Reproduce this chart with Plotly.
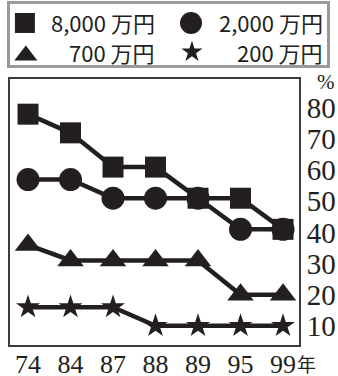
import plotly.graph_objects as go

# Survey years (x categories) and share (%) for each income bracket
years = ["74", "84", "87", "88", "89", "95", "99"]
income_8000 = [78, 72, 61, 61, 51, 51, 41]
income_2000 = [57, 57, 51, 51, 51, 41, 41]
income_700 = [36, 31, 31, 31, 31, 20, 20]
income_200 = [16, 16, 16, 10, 10, 10, 10]
series_names = ["8,000 万円", "2,000 万円", "700 万円", "200 万円"]
y_ticks = [10, 20, 30, 40, 50, 60, 70, 80]

W, H = 338, 376
INK = "#231f20"
FRAME = "#3c3c3c"
TICK_FONT = "Liberation Serif, serif"


def px_x(p):
    return p / W


def px_y(p):
    return (H - p) / H


series = [
    (income_8000, "square", 21),
    (income_2000, "circle", 23),
    (income_700, "triangle-up", 23),
    (income_200, "star", 18),
]

fig = go.Figure()
for vals, sym, size in series:
    fig.add_trace(go.Scatter(
        x=years, y=vals, mode="lines+markers",
        line=dict(color=INK, width=4.5),
        marker=dict(symbol=sym, size=size, color=INK, line=dict(width=0)),
        showlegend=False, cliponaxis=False, xaxis="x", yaxis="y",
    ))

# Key: symbol + right-aligned label, laid out 2 x 2 in its own small axes
key_pos = [(0.047, 0.689), (0.571, 0.689), (0.05, 0.156), (0.574, 0.213)]
key_text_x = [0.464, 0.994, 0.464, 0.994]
key_text_y = [0.70, 0.70, 0.21, 0.21]
key_sizes = [20, 22, 20, 16]
for (sx, sy), (vals, sym, _), ks in zip(key_pos, series, key_sizes):
    fig.add_trace(go.Scatter(
        x=[sx], y=[sy], mode="markers",
        marker=dict(symbol=sym, size=ks, color=INK, line=dict(width=0)),
        showlegend=False, xaxis="x2", yaxis="y2", hoverinfo="skip",
    ))

annotations = []
for name, tx, ty in zip(series_names, key_text_x, key_text_y):
    annotations.append(dict(
        x=tx, y=ty, xref="x2", yref="y2", text=name, showarrow=False,
        xanchor="right", yanchor="middle",
        font=dict(family="Noto Sans CJK JP", size=22, color=INK),
    ))

annotations.append(dict(
    x=px_x(306), y=px_y(363), xref="paper", yref="paper", text="年",
    showarrow=False, xanchor="center", yanchor="middle",
    font=dict(family="Noto Sans CJK JP", size=19, color=INK),
))
annotations.append(dict(
    x=px_x(326), y=px_y(82), xref="paper", yref="paper", text="%",
    showarrow=False, xanchor="center", yanchor="middle",
    font=dict(family=TICK_FONT, size=21, color=INK),
))

common = dict(showgrid=False, zeroline=False, ticks="", automargin=False)

fig.update_layout(
    width=W, height=H,
    margin=dict(l=0, r=0, t=0, b=0, autoexpand=False),
    paper_bgcolor="white", plot_bgcolor="white",
    xaxis=dict(
        domain=[px_x(10), px_x(299)],
        type="category", range=[-0.424, 6.376],
        showline=True, mirror=True, linecolor=FRAME, linewidth=2,
        tickfont=dict(family=TICK_FONT, size=26, color=INK),
        ticklabelstandoff=-5, **common,
    ),
    yaxis=dict(
        domain=[px_y(345), px_y(79)],
        range=[3.85, 89.3], side="right",
        tickvals=y_ticks, ticktext=[str(v) for v in y_ticks],
        showline=True, mirror=True, linecolor=FRAME, linewidth=2,
        tickfont=dict(family=TICK_FONT, size=29, color=INK),
        **common,
    ),
    xaxis2=dict(
        domain=[px_x(10), px_x(327)], range=[0, 1], anchor="y2",
        showticklabels=False,
        showline=True, mirror=True, linecolor="#9a9a9a", linewidth=2.5,
        **common,
    ),
    yaxis2=dict(
        domain=[px_y(65), px_y(4)], range=[0, 1], anchor="x2",
        showticklabels=False,
        showline=True, mirror=True, linecolor="#9a9a9a", linewidth=2.5,
        **common,
    ),
    annotations=annotations,
)

fig.write_html("out.html")
